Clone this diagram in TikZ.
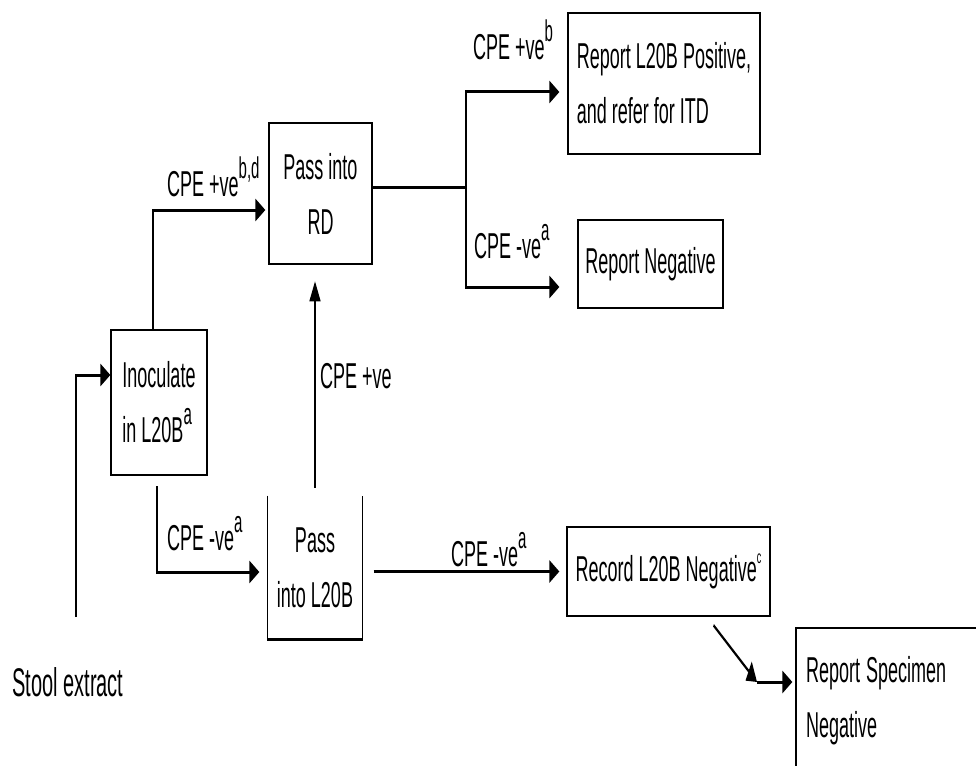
\documentclass[tikz,border=0pt]{standalone}
\usepackage{fontspec}
\setmainfont{Liberation Sans}
\usetikzlibrary{arrows.meta,positioning}

% raised note letters
\newcommand{\supx}[2][15]{\raisebox{9pt}{\fontsize{#1}{#1}\selectfont #2}}

\tikzset{
	box/.style={draw, line width=1.3pt, inner sep=0pt, font=\fontsize{18}{27.5}\selectfont},
	lbl/.style={inner sep=0pt, anchor=base west, font=\fontsize{18}{27.5}\selectfont},
	arr/.style={line width=1.5pt, -{Triangle[length=10pt,width=11pt]}}
}

\begin{document}
\begin{tikzpicture}[x=1pt,y=-1pt]
	
	\useasboundingbox (0,0) rectangle (976,765);
	
	% the whole chart is drawn tall and narrow
	\begin{scope}[y=-0.5pt, transform canvas={yscale=2}]
		
		\node[
		box,
		minimum width=96pt,
		minimum height=72.5pt,
		align=left
		]
		(inoc)
		at (159,402.5)
		{Inoculate\\in L20B\supx{a}};
		
		\node[
		box,
		minimum width=103pt,
		minimum height=70.5pt,
		align=center
		]
		(rd)
		at (320.5,193.5)
		{Pass into\\RD};
		
		\node[
		box,
		draw=none,
		minimum width=94pt,
		minimum height=70.5pt,
		align=center
		]
		(passl)
		at (315,567.5)
		{Pass\\into L20B};
		\draw[line width=1.3pt] (passl.north west) -- (passl.south west) -- (passl.south east) -- (passl.north east);
		
		\node[
		box,
		minimum width=192pt,
		minimum height=70.5pt,
		align=left
		]
		(rpos)
		at (664,83.5)
		{Report L20B Positive,\\and refer for ITD};
		
		\node[
		box,
		minimum width=145pt,
		minimum height=44pt
		]
		(rneg)
		at (650.5,264)
		{Report Negative};
		
		\node[
		box,
		minimum width=203pt,
		minimum height=44.5pt
		]
		(rec)
		at (668.5,571.5)
		{Record L20B Negative\supx[9]{c}};
		
		\node[
		box,
		text width=190pt,
		inner xsep=10pt,
		minimum height=73pt,
		align=left
		]
		(rspec)
		at (901,701)
		{Report Specimen\\Negative};
		
		% labels
		\node[lbl] (lbd) at (167,196) {CPE +ve\supx{b,d}};
		\node[lbl] (lposb) at (473,60) {CPE +ve\supx{b}};
		\node[lbl] (lnega) at (474,258) {CPE -ve\supx{a}};
		\node[lbl] (lrd) at (320,388) {CPE +ve};
		\node[lbl] (lnegl) at (167,550) {CPE -ve\supx{a}};
		\node[lbl] (lnegr) at (451,566) {CPE -ve\supx{a}};
		\node[lbl, font=\fontsize{20}{24}\selectfont] (stool) at (12,696) {Stool extract};
		
		\coordinate (stooltop) at (76,617);
		\coordinate (br) at (466,187);
		\coordinate (bend) at (757,682);
		
		\draw[arr] (stooltop) |- (inoc.west |- 0,375);
		\draw[arr, shorten >=3pt] (inoc.north -| 153,0) |- (rd.west |- 0,210);
		\draw[arr, shorten <=5pt, shorten >=8pt] (inoc.south -| 157,0) |- (passl.west |- 0,572);
		\draw[arr, shorten <=4pt, shorten >=8pt] (passl.north) -- (passl.north |- rd.south);
		
		\draw[line width=1.5pt] (rd.east |- br) -- (br);
		\draw[arr, shorten >=8pt] (br) |- (rpos.west |- 0,92);
		\draw[arr, shorten >=18pt] (br) |- (rneg.west |- 0,287);
		
		\draw[arr, shorten <=11pt, shorten >=7pt] (passl.east |- rec.west) -- (rec.west);
		\draw[arr] ([xshift=45pt,yshift=-4pt]rec.south) -- (bend);
		\draw[arr, shorten >=3pt] (bend) -- (rspec.west |- bend);
		
	\end{scope}
	
\end{tikzpicture}
\end{document}
